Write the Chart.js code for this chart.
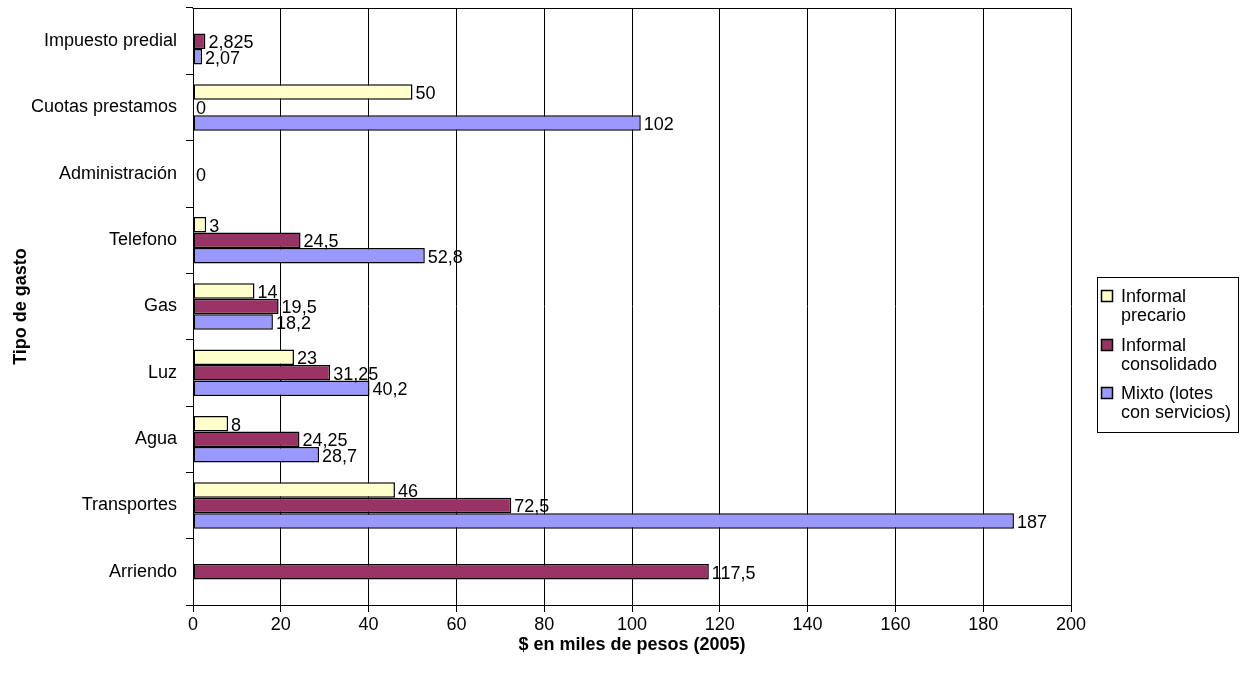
<!DOCTYPE html>
<html>
<head>
<meta charset="utf-8">
<script src="https://cdn.jsdelivr.net/npm/chart.js@4/dist/chart.umd.min.js"></script>
<style>
  html, body { margin: 0; padding: 0; background: #fff; }
  #wrap { width: 1241px; height: 684px; position: relative; }
</style>
</head>
<body>
<div id="wrap"><canvas id="c" width="1241" height="684"></canvas></div>
<script>
// Expense types (top to bottom) and the three settlement types
const categories = ['Impuesto predial', 'Cuotas prestamos', 'Administración', 'Telefono', 'Gas', 'Luz', 'Agua', 'Transportes', 'Arriendo'];
const informalPrecario    = [null, 50, null, 3, 14, 23, 8, 46, null];
const informalConsolidado = [2.825, 0, 0, 24.5, 19.5, 31.25, 24.25, 72.5, 117.5];
const mixtoLotes          = [2.07, 102, null, 52.8, 18.2, 40.2, 28.7, 187, null];
const seriesNames = [['Informal', 'precario'], ['Informal', 'consolidado'], ['Mixto (lotes', 'con servicios)']];
const seriesColors = ['#FFFFCC', '#993366', '#9999FF'];
const xTicks = [0, 20, 40, 60, 80, 100, 120, 140, 160, 180, 200];
const xTitle = '$ en miles de pesos (2005)';
const yTitle = 'Tipo de gasto';

const FONT = "'Liberation Sans', Arial, sans-serif";

// value labels at the end of each bar, decimal comma
const valueLabels = {
  id: 'valueLabels',
  afterDatasetsDraw(chart) {
    const ctx = chart.ctx;
    ctx.save();
    ctx.font = '18px ' + FONT;
    ctx.fillStyle = '#000';
    ctx.textAlign = 'left';
    ctx.textBaseline = 'middle';
    chart.data.datasets.forEach((ds, i) => {
      const meta = chart.getDatasetMeta(i);
      meta.data.forEach((bar, j) => {
        const v = ds.data[j];
        if (v === null || v === undefined) return;
        const txt = String(v).replace('.', ',');
        ctx.fillText(txt, bar.x + 3, bar.y + 2);
      });
    });
    ctx.restore();
  }
};

// plot frame and boxed legend on the right
const frameAndLegend = {
  id: 'frameAndLegend',
  afterDraw(chart) {
    const ctx = chart.ctx;
    const a = chart.chartArea;
    ctx.save();
    ctx.strokeStyle = '#000';
    ctx.lineWidth = 1;
    ctx.beginPath();
    ctx.moveTo(Math.round(a.left) - 0.5, Math.round(a.top) + 0.5);
    ctx.lineTo(Math.round(a.right) + 0.5, Math.round(a.top) + 0.5);
    ctx.stroke();

    // legend
    const bx = 1097, by = 277, bw = 141, bh = 155;
    ctx.strokeRect(bx + 0.5, by + 0.5, bw, bh);
    ctx.font = '18px ' + FONT;
    ctx.textAlign = 'left';
    ctx.textBaseline = 'middle';
    const firstLine = [296, 345, 393];
    seriesNames.forEach((lines, i) => {
      const y0 = firstLine[i];
      ctx.fillStyle = seriesColors[i];
      ctx.fillRect(1101, y0 - 6, 12, 12);
      ctx.strokeStyle = '#000';
      ctx.lineWidth = 1.5;
      ctx.strokeRect(1101.5, y0 - 5.5, 11, 11);
      ctx.fillStyle = '#000';
      lines.forEach((t, k) => ctx.fillText(t, 1121, y0 + k * 19 + 1));
    });
    ctx.restore();
  }
};

const datasets = [informalPrecario, informalConsolidado, mixtoLotes].map((d, i) => ({
  label: seriesNames[i].join(' '),
  data: d,
  backgroundColor: seriesColors[i],
  borderColor: '#000',
  borderWidth: 1.5,
  borderSkipped: false,
  categoryPercentage: 0.7,
  barPercentage: 1.0
}));

new Chart(document.getElementById('c'), {
  type: 'bar',
  data: { labels: categories, datasets },
  options: {
    indexAxis: 'y',
    responsive: false,
    devicePixelRatio: 1,
    animation: false,
    layout: { padding: { left: 0, right: 170, top: 8, bottom: 0 } },
    plugins: {
      legend: { display: false },
      title: { display: false },
      tooltip: { enabled: false }
    },
    scales: {
      x: {
        type: 'linear',
        min: xTicks[0],
        max: xTicks[xTicks.length - 1],
        afterBuildTicks(scale) { scale.ticks = xTicks.map(v => ({ value: v })); },
        afterFit(scale) { scale.height = 79; },
        ticks: { color: '#000', font: { family: FONT, size: 18 }, padding: 2 },
        grid: { color: '#000', lineWidth: 1, tickLength: 7, drawTicks: true },
        border: { display: true, color: '#000', width: 1 },
        title: { display: true, text: xTitle, color: '#000', font: { family: FONT, size: 18, weight: 'bold' }, padding: { top: 0, bottom: 28 } }
      },
      y: {
        type: 'category',
        afterFit(scale) { scale.width = 193; scale.paddingTop = 0; scale.paddingBottom = 0; },
        ticks: { color: '#000', font: { family: FONT, size: 18 }, padding: 9 },
        grid: { offset: true, drawOnChartArea: false, drawTicks: true, tickLength: 7, color: '#000' },
        border: { display: true, color: '#000', width: 1 },
        title: { display: true, text: yTitle, color: '#000', font: { family: FONT, size: 18, weight: 'bold' }, padding: { top: 10, bottom: 0 } }
      }
    }
  },
  plugins: [valueLabels, frameAndLegend]
});
</script>
</body>
</html>
